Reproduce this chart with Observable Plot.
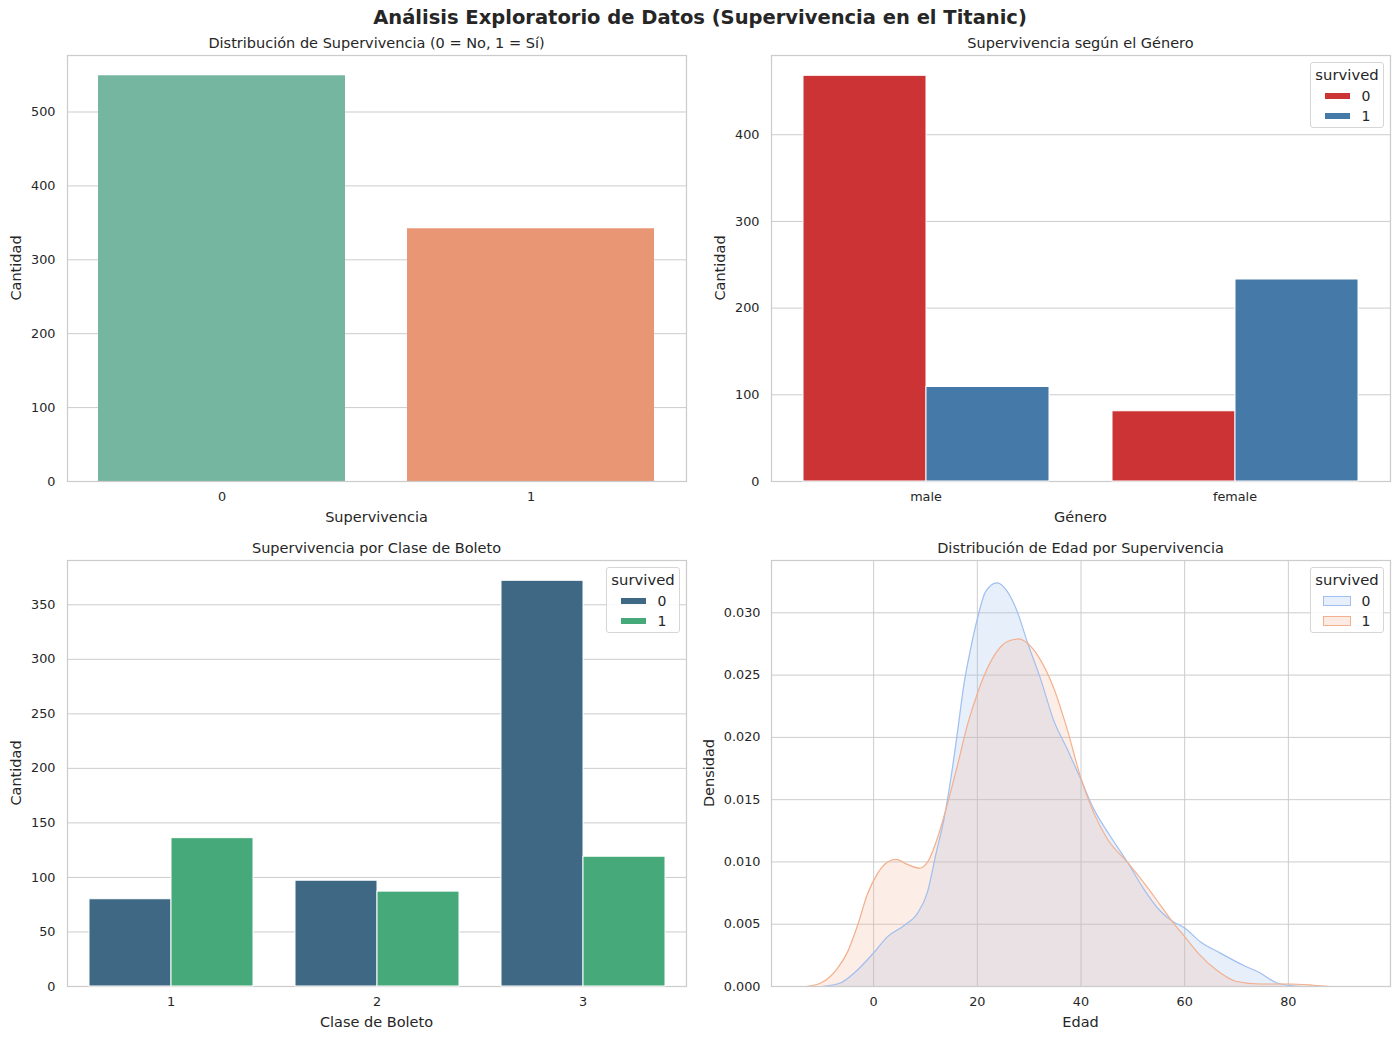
<!DOCTYPE html>
<html>
<head>
<meta charset="utf-8">
<script src="https://cdn.jsdelivr.net/npm/d3@7"></script>
<script src="https://cdn.jsdelivr.net/npm/@observablehq/plot@0.6"></script>
<style>
  html, body { margin: 0; padding: 0; background: #ffffff; }
  #fig { position: relative; width: 1400px; height: 1040px; font-family: "DejaVu Sans", sans-serif; color: #262626; overflow: hidden; }
  .abs { position: absolute; }
  .lbl { position: absolute; white-space: nowrap; transform: translate(-50%, -50%); line-height: 1; }
  .legend { position: absolute; border: 1px solid #d6d6d6; border-radius: 3px; background: rgba(255,255,255,0.85); box-sizing: border-box; }
</style>
</head>
<body>
<div id="fig"></div>
<script>
// ---------- DATA ----------
const survivedCats = ["0", "1"];
const survivedCounts = [549, 342];

const sexCats = ["male", "female"];
const sexDied = [468, 81];
const sexSurvived = [109, 233];

const classCats = ["1", "2", "3"];
const classDied = [80, 97, 372];
const classSurvived = [136, 87, 119];

// KDE of age
const ages0 = [-10, -6.3, -3.7, 0, 2.7, 5.9, 8.5, 10.4, 12.0, 13.6, 14.9, 16.2, 17.4, 18.7, 20, 21.6, 23.8, 25.8, 27.7, 29.6, 32.2, 34.7, 37.3, 40, 42.4, 45.6, 49.1, 52, 55.2, 57.8, 60, 63, 66.8, 71.3, 74.5, 77.7, 80, 83];
const dens0 = [0, 0.0003, 0.0011, 0.0027, 0.0040, 0.0049, 0.0059, 0.0076, 0.0106, 0.0135, 0.0167, 0.0205, 0.0242, 0.0271, 0.0295, 0.0317, 0.0324, 0.0317, 0.0301, 0.0277, 0.0247, 0.0214, 0.0191, 0.0166, 0.0143, 0.0121, 0.0099, 0.0079, 0.0061, 0.0052, 0.0047, 0.0036, 0.0027, 0.0017, 0.0011, 0.0003, 0.0001, 0];
const ages1 = [-13, -10.1, -6.9, -5, -3.1, -1.2, 0.8, 2.7, 4.3, 6.5, 8.8, 10.7, 12.3, 14.2, 16.2, 18.1, 20, 21.9, 23.8, 25.8, 28, 30.3, 32.2, 34.7, 37.3, 40, 42.4, 45, 49.1, 52, 55.2, 57.8, 60, 63, 66.2, 70, 74.5, 80, 84.8, 88];
const dens1 = [0, 0.0003, 0.0015, 0.0028, 0.0049, 0.0074, 0.0091, 0.0100, 0.0102, 0.0098, 0.0095, 0.0102, 0.0119, 0.0146, 0.0178, 0.0210, 0.0235, 0.0255, 0.0269, 0.0277, 0.0279, 0.0273, 0.0262, 0.0240, 0.0207, 0.0167, 0.0140, 0.0119, 0.0099, 0.0084, 0.0066, 0.0051, 0.0040, 0.0025, 0.0013, 0.0004, 0.0002, 0.0002, 0.0001, 0];

// ticks
const ticks1 = [0, 100, 200, 300, 400, 500];
const ticks2 = [0, 100, 200, 300, 400];
const ticks3 = [0, 50, 100, 150, 200, 250, 300, 350];
const ticks4x = [0, 20, 40, 60, 80];
const ticks4y = [0, 0.005, 0.010, 0.015, 0.020, 0.025, 0.030];

// colours
const colors1 = ["#74b6a0", "#e89673"];
const colors2 = ["#cb3335", "#4479a8"];
const colors3 = ["#3e6884", "#46a97a"];
const colors4 = ["#a1bff0", "#f3b08e"];

// ---------- TABLES ----------
const t1 = survivedCats.map((s, i) => ({survived: s, count: survivedCounts[i]}));
const t2 = sexCats.flatMap((g, i) => [
  {sex: g, survived: "0", count: sexDied[i]},
  {sex: g, survived: "1", count: sexSurvived[i]}
]);
const t3 = classCats.flatMap((c, i) => [
  {pclass: c, survived: "0", count: classDied[i]},
  {pclass: c, survived: "1", count: classSurvived[i]}
]);
const k0 = ages0.map((a, i) => ({age: a, d: dens0[i]}));
const k1 = ages1.map((a, i) => ({age: a, d: dens1[i]}));

// ---------- LAYOUT HELPERS ----------
const fig = document.getElementById("fig");
const W = 700, H = 500;
const GRID = "#cccccc";
const TICKFONT = 12.8;
const baseStyle = {fontFamily: "DejaVu Sans, sans-serif", fontSize: TICKFONT + "px", color: "#262626", background: "transparent", overflow: "visible"};

function place(node, left, top) {
  node.classList.add("abs");
  node.style.left = left + "px";
  node.style.top = top + "px";
  fig.appendChild(node);
}
function label(text, cx, cy, size, opts = {}) {
  const d = document.createElement("div");
  d.className = "lbl";
  d.textContent = text;
  d.style.left = cx + "px";
  d.style.top = cy + "px";
  d.style.fontSize = size + "px";
  if (opts.bold) d.style.fontWeight = "bold";
  if (opts.rotate) d.style.transform = "translate(-50%, -50%) rotate(-90deg)";
  fig.appendChild(d);
}
function legend(x, y, w, h, colors, kind) {
  const box = document.createElement("div");
  box.className = "legend";
  box.style.left = x + "px"; box.style.top = y + "px";
  box.style.width = w + "px"; box.style.height = h + "px";
  fig.appendChild(box);
  label("survived", x + w / 2, y + 13, 14.8);
  survivedCats.forEach((s, i) => {
    const sw = document.createElement("div");
    sw.className = "abs";
    const cy = y + 34 + i * 20;
    if (kind === "bar") {
      sw.style.left = (x + 15) + "px"; sw.style.top = (cy - 3) + "px";
      sw.style.width = "25px"; sw.style.height = "6px";
      sw.style.background = colors[i];
    } else {
      sw.style.left = (x + 13) + "px"; sw.style.top = (cy - 5) + "px";
      sw.style.width = "28px"; sw.style.height = "10px";
      sw.style.boxSizing = "border-box";
      sw.style.border = "1px solid " + colors[i];
      sw.style.background = d3.color(colors[i]).copy({opacity: 0.25}).formatRgb();
    }
    fig.appendChild(sw);
    label(s, x + 56, cy, 14);
  });
}

// ---------- PANEL 1 ----------
{
  const p = Plot.plot({
    width: W, height: H,
    marginLeft: 67, marginRight: 14, marginTop: 25, marginBottom: 49,
    style: baseStyle,
    x: {domain: survivedCats, paddingInner: 0.2, paddingOuter: 0.1, axis: null},
    y: {domain: [0, 549 * 1.05], axis: null},
    color: {domain: survivedCats, range: colors1},
    marks: [
      Plot.gridY(ticks1, {stroke: GRID, strokeOpacity: 1, strokeWidth: 1}),
      Plot.barY(t1, {x: "survived", y: "count", fill: "survived"}),
      Plot.frame({stroke: GRID, strokeWidth: 1.25}),
      Plot.axisY(ticks1, {tickSize: 0, tickPadding: 12, label: null, fill: "#262626", fontSize: TICKFONT}),
      Plot.axisX({tickSize: 0, tickPadding: 10, label: null, fill: "#262626", fontSize: TICKFONT})
    ]
  });
  place(p, 0, 30);
  label("Distribución de Supervivencia (0 = No, 1 = Sí)", 376.5, 43, 14.5);
  label("Supervivencia", 376.5, 517, 14.5);
  label("Cantidad", 16, 268, 14.5, {rotate: true});
}

// ---------- GROUPED BAR HELPER ----------
function grouped(table, key, cats, yMax, ticks, colors, left, top, ml, mr) {
  const bg = Plot.plot({
    width: W, height: H,
    marginLeft: ml, marginRight: mr, marginTop: 25, marginBottom: 49,
    style: baseStyle,
    y: {domain: [0, yMax], axis: null},
    marks: [
      Plot.gridY(ticks, {stroke: GRID, strokeOpacity: 1, strokeWidth: 1}),
      Plot.frame({stroke: GRID, strokeWidth: 1.25}),
      Plot.axisY(ticks, {tickSize: 0, tickPadding: 12, label: null, fill: "#262626", fontSize: TICKFONT})
    ]
  });
  place(bg, left, top);
  const fg = Plot.plot({
    width: W, height: H,
    marginLeft: ml, marginRight: mr, marginTop: 25, marginBottom: 49,
    style: baseStyle,
    fx: {domain: cats, paddingInner: 0.2, paddingOuter: 0.1, axis: null, label: null},
    x: {domain: survivedCats, padding: 0, axis: null},
    y: {domain: [0, yMax], axis: null},
    color: {domain: survivedCats, range: colors},
    marks: [
      Plot.barY(table, {fx: key, x: "survived", y: "count", fill: "survived", stroke: "white", strokeWidth: 1}),
      Plot.axisFx({anchor: "bottom", tickSize: 0, tickPadding: 10, label: null, fill: "#262626", fontSize: TICKFONT})
    ]
  });
  place(fg, left, top);
}

// ---------- PANEL 2 ----------
grouped(t2, "sex", sexCats, 468 * 1.05, ticks2, colors2, 700, 30, 71, 10);
label("Supervivencia según el Género", 1080.5, 43, 14.5);
label("Género", 1080.5, 517, 14.5);
label("Cantidad", 720, 268, 14.5, {rotate: true});
legend(1310, 62, 74, 66, colors2, "bar");

// ---------- PANEL 3 ----------
grouped(t3, "pclass", classCats, 372 * 1.05, ticks3, colors3, 0, 535, 67, 14);
label("Supervivencia por Clase de Boleto", 376.5, 548, 14.5);
label("Clase de Boleto", 376.5, 1022, 14.5);
label("Cantidad", 16, 773, 14.5, {rotate: true});
legend(606, 567, 74, 66, colors3, "bar");

// ---------- PANEL 4 ----------
{
  const p = Plot.plot({
    width: W, height: H,
    marginLeft: 71, marginRight: 10, marginTop: 25, marginBottom: 49,
    style: baseStyle,
    x: {domain: [-19.7, 99.7], axis: null},
    y: {domain: [0, 0.0342], axis: null},
    marks: [
      Plot.gridY(ticks4y, {stroke: GRID, strokeOpacity: 1, strokeWidth: 1}),
      Plot.gridX(ticks4x, {stroke: GRID, strokeOpacity: 1, strokeWidth: 1}),
      Plot.areaY(k0, {x: "age", y: "d", fill: colors4[0], fillOpacity: 0.25, curve: "monotone-x"}),
      Plot.areaY(k1, {x: "age", y: "d", fill: colors4[1], fillOpacity: 0.22, curve: "monotone-x"}),
      Plot.lineY(k0, {x: "age", y: "d", stroke: colors4[0], strokeWidth: 1.2, curve: "monotone-x"}),
      Plot.lineY(k1, {x: "age", y: "d", stroke: colors4[1], strokeWidth: 1.2, curve: "monotone-x"}),
      Plot.frame({stroke: GRID, strokeWidth: 1.25}),
      Plot.axisY(ticks4y, {tickSize: 0, tickPadding: 11, label: null, tickFormat: d3.format(".3f"), fill: "#262626", fontSize: TICKFONT}),
      Plot.axisX(ticks4x, {tickSize: 0, tickPadding: 10, label: null, fill: "#262626", fontSize: TICKFONT})
    ]
  });
  place(p, 700, 535);
  label("Distribución de Edad por Supervivencia", 1080.5, 548, 14.5);
  label("Edad", 1080.5, 1022, 14.5);
  label("Densidad", 709, 773, 14.5, {rotate: true});
  legend(1310, 567, 74, 66, colors4, "kde");
}

// ---------- SUPTITLE ----------
label("Análisis Exploratorio de Datos (Supervivencia en el Titanic)", 700, 18, 19.5, {bold: true});
</script>
</body>
</html>
